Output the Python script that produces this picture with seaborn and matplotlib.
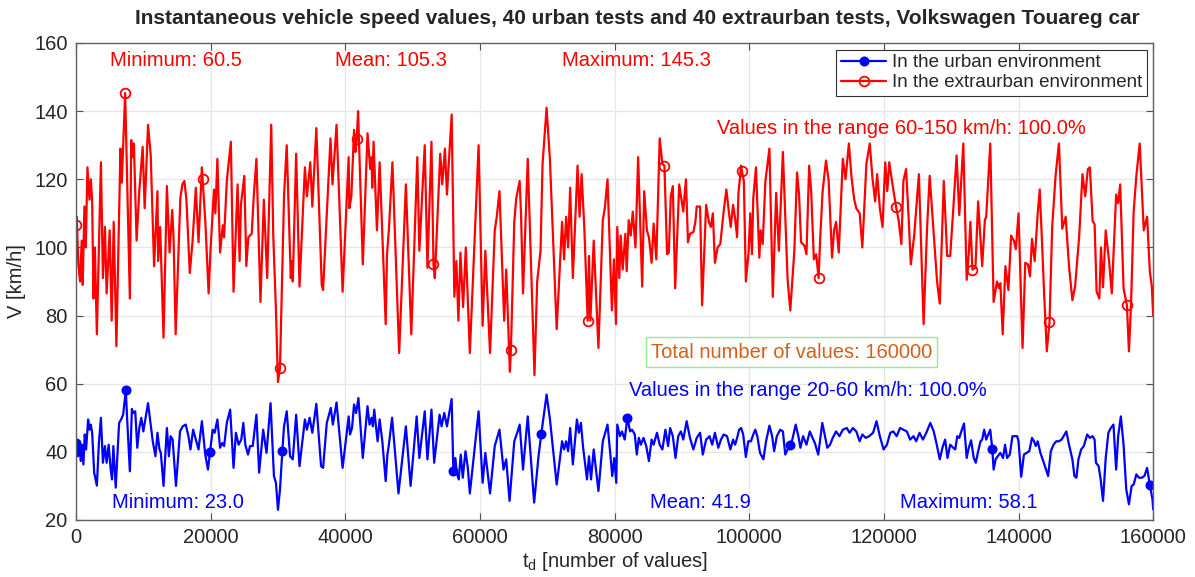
import numpy as np
import pandas as pd
import seaborn as sns
import matplotlib.pyplot as plt

# speed readings: (t_d in thousands of values, V in km/h)
extraurban = [
    (0.0, 106.5), (0.1, 109), (0.35, 95), (0.6, 90), (0.85, 102), (1.0, 89), (1.25, 112), (1.45, 100),
    (1.7, 123.5), (2.0, 114), (2.2, 120), (2.4, 113.5), (2.6, 85), (2.8, 100), (3.1, 74.5), (3.7, 125),
    (4.0, 91), (4.3, 106), (4.55, 86.5), (5.0, 105), (5.3, 78.5), (5.6, 107.5), (6.0, 71), (6.6, 129),
    (6.8, 119), (7.0, 129.5), (7.3, 145.3), (8.0, 85), (8.2, 131.5), (8.4, 126.5), (8.6, 130.5), (9.0, 102),
    (9.4, 116.5), (9.9, 129.5), (10.2, 111.5), (10.7, 136), (11.1, 127), (11.6, 94.5), (12.1, 116.5), (12.2, 96),
    (12.5, 106), (13.0, 73.5), (13.5, 118), (13.9, 98.5), (14.3, 111), (14.5, 102), (14.8, 74.5), (15.5, 114.5),
    (15.8, 118.5), (16.1, 119.5), (16.4, 114), (16.9, 92.5), (17.3, 101.5), (17.8, 117.5), (18.2, 101.5), (18.7, 123.5),
    (18.8, 120), (19.2, 108), (19.7, 86.5), (20.0, 100), (20.5, 117), (20.7, 110), (21.0, 126), (21.4, 98.5),
    (21.8, 106.5), (22.0, 103), (22.4, 119.5), (23.0, 131), (23.4, 87), (24.0, 118.5), (24.3, 96), (24.5, 112.5),
    (25.0, 121), (25.3, 94.5), (25.6, 103), (26.1, 104), (26.4, 115), (26.8, 126), (27.4, 84), (27.9, 114),
    (28.4, 91), (29.0, 136), (29.3, 103.5), (29.7, 81.5), (30.0, 60.5), (30.3, 64.7), (30.9, 115), (31.3, 130),
    (31.9, 91), (32.05, 96), (32.2, 90), (32.7, 127.5), (33.2, 88.5), (34.0, 123.5), (34.3, 115), (34.8, 125),
    (35.1, 112), (35.7, 135), (36.5, 89), (36.7, 87.5), (37.8, 132), (38.1, 118.5), (38.7, 136), (39.6, 87),
    (40.5, 126.5), (40.6, 111.5), (40.9, 115), (41.3, 134.5), (41.5, 128), (41.7, 131.7), (41.9, 140), (42.6, 95),
    (43.3, 133.5), (43.7, 123), (43.9, 126.5), (44.0, 117.5), (44.2, 131), (44.7, 105), (45.1, 125), (46.0, 77.5),
    (46.2, 98), (46.5, 106), (47.0, 125), (48.0, 69), (49.0, 118.5), (49.8, 74.5), (50.7, 126.5), (51.0, 99),
    (51.8, 130), (52.2, 94), (52.8, 131), (53.1, 95), (53.3, 91), (54.1, 127.5), (54.4, 118.5), (54.8, 129),
    (55.1, 115.5), (55.8, 139), (56.2, 85.5), (56.5, 96), (56.8, 78.5), (57.1, 98.5), (57.5, 82.5), (57.9, 100),
    (58.5, 69), (59.8, 130), (60.4, 77), (60.8, 99), (61.5, 69), (62.2, 105), (62.5, 109), (62.9, 116.5),
    (63.6, 78.5), (63.9, 93.5), (64.45, 63.5), (64.6, 70), (65.1, 107.5), (65.4, 114.5), (65.9, 119.5), (66.1, 110),
    (66.4, 86.5), (67.1, 126), (68.1, 62.5), (68.5, 90), (69.0, 99), (69.3, 124.5), (69.9, 141), (70.4, 125.5),
    (71.4, 76), (72.2, 107.5), (72.5, 96.5), (72.8, 109), (73.1, 100), (73.4, 117.5), (73.8, 91), (74.5, 124),
    (74.8, 109), (75.1, 121.5), (75.5, 106), (76.0, 78.5), (76.2, 97.5), (76.4, 78.5), (76.9, 102), (77.6, 70.5),
    (78.25, 108), (78.55, 111.5), (78.95, 120), (79.6, 81.5), (79.9, 96.5), (80.2, 77.5), (80.4, 106), (80.7, 91),
    (80.9, 103.5), (81.2, 93.5), (81.6, 104), (81.8, 93), (82.1, 108), (82.4, 103.5), (82.7, 110.5), (83.1, 100),
    (83.5, 126.5), (84.1, 88.5), (84.4, 116.5), (84.8, 105), (85.1, 103), (85.5, 95.5), (85.8, 107), (86.2, 96.5),
    (86.7, 132), (87.1, 124.5), (87.4, 124), (87.8, 98), (88.05, 98.5), (88.35, 115), (88.65, 118), (89.0, 88),
    (89.6, 118.5), (89.9, 114.5), (90.2, 110.5), (90.6, 120), (90.9, 101.5), (91.2, 104), (91.7, 104.5), (92.0, 107.5),
    (92.2, 112), (92.7, 112), (93.0, 83), (93.6, 112.5), (94.0, 107.5), (94.3, 106), (94.6, 110), (94.9, 95.5),
    (95.3, 100), (95.7, 101), (96.2, 110.5), (96.6, 117), (97.0, 110), (97.25, 106), (97.6, 112.5), (97.9, 108.5),
    (98.2, 103), (98.4, 116), (98.8, 124), (98.9, 122.5), (99.2, 119.5), (99.5, 90), (99.9, 98.5), (100.15, 110),
    (100.4, 98), (100.6, 114.5), (101.0, 123.5), (101.5, 97), (101.7, 105), (102.0, 101), (102.4, 119.5), (103.0, 129),
    (103.5, 85.5), (104.0, 116), (104.4, 99), (105.0, 128), (105.7, 90.5), (106.1, 81.5), (106.7, 99), (107.1, 122),
    (107.4, 115.5), (107.7, 101.5), (108.2, 100.5), (108.5, 98), (108.9, 124), (109.2, 116.5), (109.6, 96.5), (109.95, 98),
    (110.3, 91), (110.55, 103), (110.9, 116.5), (111.4, 125.5), (111.8, 119.5), (112.3, 97), (112.6, 105), (112.9, 107.5),
    (113.3, 98.5), (113.9, 126), (114.3, 120), (114.8, 130.5), (115.2, 120.5), (115.6, 114), (115.9, 111.5), (116.4, 110),
    (116.8, 100), (117.4, 124.5), (117.9, 130.5), (118.3, 120.5), (118.7, 113.5), (119.0, 121.5), (119.4, 111.5), (119.8, 106),
    (120.2, 125), (120.5, 116.5), (120.8, 125), (121.2, 119.5), (121.8, 112), (122.2, 107.8), (122.6, 101), (122.9, 119.5),
    (123.3, 123), (123.7, 107.8), (124.0, 95), (124.5, 103.5), (125.2, 121.5), (125.9, 77.5), (126.4, 105), (126.8, 121),
    (127.2, 109.8), (127.9, 90), (128.3, 83.5), (128.9, 119.5), (129.4, 97.5), (129.85, 97.5), (130.3, 111), (130.8, 127),
    (131.2, 109.5), (131.8, 130.5), (132.3, 90.5), (132.6, 98), (132.85, 107.5), (133.15, 93.5), (133.6, 94), (134.0, 113.5),
    (134.6, 94.5), (135.0, 108), (135.2, 109), (135.8, 130.5), (136.3, 84), (136.8, 90), (137.1, 88), (137.3, 89.5),
    (137.65, 74.5), (138.05, 94.5), (138.5, 87.5), (138.9, 103.5), (139.3, 102), (139.6, 99.5), (140.0, 110), (140.6, 70.5),
    (141.0, 95.5), (141.4, 95), (141.7, 91.5), (142.0, 102.5), (142.4, 96), (142.85, 110), (143.15, 117), (143.5, 101),
    (143.8, 86.5), (144.2, 69.5), (144.6, 78), (145.0, 106), (145.5, 121), (146.0, 130.5), (146.5, 105.5), (147.0, 109),
    (147.5, 94.5), (148.0, 84.5), (148.4, 88.5), (149.0, 103), (149.5, 121.5), (149.9, 115), (150.3, 123), (150.6, 123.5),
    (151.0, 107.8), (151.3, 106.8), (151.6, 87), (152.0, 85), (152.25, 100), (152.55, 88.3), (152.95, 105), (153.45, 96),
    (153.85, 86.5), (154.5, 115.5), (154.8, 113), (155.1, 118.5), (155.6, 88), (156.1, 83), (156.4, 69.5), (156.7, 82.5),
    (157.1, 110.5), (157.5, 121), (158.0, 130.5), (158.6, 105), (159.1, 109), (159.5, 93), (159.8, 88.5), (160.0, 80),
]

urban = [
    (0.0, 42.7), (0.3, 38.7), (0.5, 43.1), (0.7, 37.3), (0.9, 42.1), (1.1, 36.3), (1.3, 45.1), (1.5, 40.7),
    (1.8, 49.5), (2.0, 46.5), (2.2, 48.0), (2.4, 45.6), (2.7, 33.9), (3.1, 30.1), (3.4, 42.6), (3.7, 50.0),
    (4.0, 36.8), (4.3, 41.7), (4.55, 36.8), (4.85, 42.1), (5.15, 34.8), (5.35, 31.9), (5.55, 41.7), (5.9, 29.5),
    (6.4, 48.5), (6.7, 49.5), (7.0, 50.9), (7.4, 58.1), (7.6, 49.5), (8.0, 34.3), (8.3, 52.6), (8.5, 51.4),
    (8.8, 51.9), (9.1, 41.2), (9.4, 47.0), (9.7, 50.0), (10.0, 46.0), (10.3, 49.5), (10.7, 54.3), (11.0, 49.5),
    (11.4, 43.1), (11.8, 38.7), (12.1, 45.6), (12.4, 40.7), (12.6, 39.7), (13.0, 30.0), (13.5, 47.0), (13.8, 38.7),
    (14.05, 44.6), (14.35, 43.6), (14.85, 30.0), (15.45, 46.0), (15.85, 47.5), (16.3, 48.0), (16.7, 44.6), (17.0, 40.7),
    (17.4, 46.5), (17.8, 43.6), (18.2, 40.7), (18.7, 49.0), (19.2, 39.2), (19.6, 34.8), (19.9, 39.9), (20.3, 46.5),
    (20.6, 45.6), (21.0, 49.5), (21.4, 41.2), (21.7, 42.6), (22.0, 41.7), (22.4, 48.5), (22.9, 52.4), (23.4, 35.3),
    (23.75, 45.6), (24.15, 42.1), (24.55, 43.6), (24.85, 48.5), (25.15, 42.1), (25.55, 39.2), (25.85, 41.7), (26.25, 41.7),
    (26.8, 50.9), (27.2, 33.9), (27.8, 46.5), (28.3, 39.7), (28.9, 54.3), (29.4, 32.9), (29.7, 30.9), (30.0, 23.0),
    (30.3, 29.0), (30.65, 40.2), (30.9, 47.5), (31.3, 51.9), (31.8, 38.7), (32.2, 37.8), (32.7, 50.9), (33.2, 35.8),
    (34.0, 49.5), (34.3, 46.5), (34.7, 50.0), (35.1, 45.6), (35.7, 54.1), (36.4, 35.8), (36.7, 35.3), (37.25, 48.5),
    (37.85, 52.9), (38.15, 48.0), (38.7, 54.5), (39.6, 35.3), (40.5, 50.4), (40.7, 45.1), (41.0, 47.0), (41.3, 53.9),
    (41.6, 51.4), (41.95, 55.8), (42.6, 38.2), (43.3, 53.4), (43.6, 48.0), (43.9, 50.0), (44.1, 47.5), (44.3, 52.4),
    (44.5, 48.5), (44.8, 43.1), (45.1, 49.5), (45.5, 43.1), (46.0, 31.4), (46.25, 39.2), (46.45, 41.7), (46.95, 50.0),
    (47.9, 27.8), (49.0, 47.5), (49.7, 30.0), (50.6, 50.4), (51.0, 38.2), (51.8, 51.9), (52.2, 37.8), (52.8, 52.4),
    (53.2, 36.8), (54.0, 50.9), (54.3, 47.5), (54.7, 51.4), (55.1, 47.5), (55.8, 55.5), (56.05, 34.3), (56.35, 38.2),
    (56.55, 33.9), (56.85, 31.9), (57.15, 39.2), (57.45, 32.4), (57.85, 40.2), (58.2, 35.3), (58.5, 27.8), (59.8, 51.9),
    (60.4, 30.9), (60.8, 39.7), (61.5, 27.8), (62.2, 41.7), (62.9, 46.5), (63.5, 34.8), (63.9, 37.8), (64.4, 25.6),
    (65.1, 43.1), (65.6, 46.0), (65.9, 48.0), (66.4, 34.8), (67.1, 50.4), (68.05, 25.1), (68.7, 38.7), (69.1, 45.1),
    (69.4, 49.5), (69.9, 56.8), (70.4, 49.5), (71.4, 30.4), (72.2, 43.1), (72.5, 40.7), (72.8, 43.1), (73.1, 40.2),
    (73.4, 47.0), (73.8, 36.3), (74.4, 49.5), (74.7, 45.6), (75.0, 48.5), (75.3, 41.7), (75.9, 31.9), (76.2, 38.7),
    (76.5, 31.9), (76.9, 40.7), (77.6, 28.5), (78.25, 43.1), (78.95, 48.0), (79.35, 39.7), (79.65, 32.9), (79.95, 38.2),
    (80.25, 30.9), (80.4, 48.0), (80.8, 44.6), (81.1, 46.0), (81.5, 43.6), (81.9, 50.0), (82.3, 46.0), (82.6, 46.5),
    (83.0, 45.1), (83.3, 39.2), (83.6, 44.1), (83.9, 42.1), (84.3, 44.1), (84.7, 41.7), (85.1, 37.3), (85.5, 43.6),
    (85.8, 42.1), (86.3, 45.6), (86.7, 42.1), (87.1, 40.7), (87.55, 46.5), (87.95, 41.7), (88.25, 47.0), (88.65, 44.6),
    (89.05, 38.2), (89.45, 44.6), (89.85, 46.0), (90.2, 43.6), (90.7, 49.0), (91.2, 44.1), (91.7, 40.7), (92.2, 44.1),
    (92.7, 45.6), (93.1, 39.2), (93.6, 43.6), (94.1, 44.6), (94.5, 42.1), (94.9, 45.6), (95.4, 41.2), (95.8, 43.6),
    (96.2, 45.1), (96.7, 44.6), (97.2, 40.7), (97.6, 43.6), (97.9, 42.1), (98.2, 44.1), (98.5, 46.5), (98.8, 47.0),
    (99.1, 45.1), (99.5, 38.5), (99.85, 43.1), (100.25, 43.1), (100.6, 45.1), (100.9, 46.5), (101.2, 44.6), (101.6, 39.7),
    (102.1, 37.8), (102.5, 43.1), (103.0, 47.7), (103.4, 44.6), (103.7, 40.2), (104.1, 44.6), (104.6, 46.5), (105.0, 46.0),
    (105.35, 39.2), (106.0, 41.9), (106.4, 43.6), (106.9, 48.0), (107.3, 44.6), (107.6, 41.2), (108.0, 44.6), (108.5, 42.1),
    (109.0, 46.0), (109.4, 44.1), (109.75, 42.6), (110.25, 39.2), (110.85, 48.5), (111.2, 45.1), (111.6, 41.2), (112.0, 42.1),
    (112.4, 44.1), (112.9, 46.0), (113.4, 44.6), (113.9, 46.5), (114.5, 47.0), (114.9, 45.6), (115.4, 47.0), (115.9, 46.0),
    (116.4, 43.1), (116.8, 45.1), (117.3, 44.1), (117.8, 44.6), (118.4, 45.6), (118.9, 49.0), (119.4, 44.6), (119.95, 40.7),
    (120.45, 42.1), (120.95, 45.6), (121.4, 46.0), (121.9, 44.6), (122.4, 47.0), (122.9, 46.5), (123.4, 46.0), (123.9, 43.6),
    (124.4, 44.6), (124.8, 43.1), (125.3, 45.6), (125.8, 43.6), (126.3, 45.6), (126.9, 48.5), (127.4, 46.0), (127.8, 42.6),
    (128.3, 37.8), (128.7, 41.2), (129.1, 43.6), (129.45, 38.2), (129.85, 42.1), (130.3, 41.2), (130.6, 40.7), (130.9, 44.6),
    (131.2, 44.1), (131.5, 46.0), (131.9, 48.3), (132.3, 38.2), (132.55, 40.7), (132.95, 43.4), (133.35, 38.2), (133.65, 36.8),
    (133.95, 39.7), (134.35, 43.1), (134.6, 43.6), (134.9, 46.5), (135.2, 43.6), (135.5, 45.1), (135.8, 46.5), (136.1, 40.9),
    (136.3, 34.8), (136.6, 37.8), (136.9, 38.7), (137.3, 39.7), (137.7, 38.2), (138.0, 42.1), (138.3, 38.2), (138.7, 39.2),
    (139.1, 44.6), (139.4, 44.6), (139.8, 44.6), (140.0, 43.1), (140.4, 32.7), (140.8, 39.2), (141.2, 39.7), (141.6, 40.2),
    (142.0, 44.1), (142.3, 43.1), (142.55, 41.7), (142.85, 43.1), (143.25, 39.7), (143.75, 36.8), (144.4, 32.9), (144.8, 40.2),
    (145.2, 42.1), (145.6, 43.1), (146.0, 43.1), (146.4, 43.6), (146.7, 44.6), (147.1, 46.0), (147.5, 42.1), (148.0, 37.8),
    (148.3, 32.9), (148.6, 32.4), (148.9, 37.8), (149.3, 40.7), (149.7, 41.7), (150.2, 45.1), (150.6, 44.1), (151.0, 44.6),
    (151.3, 43.6), (151.5, 36.8), (151.9, 35.8), (152.2, 31.9), (152.55, 25.6), (152.95, 38.2), (153.35, 45.6), (153.7, 47.0),
    (154.1, 48.0), (154.5, 34.8), (154.8, 44.6), (155.2, 50.4), (155.6, 42.1), (156.0, 29.0), (156.4, 24.6), (156.8, 30.0),
    (157.1, 30.4), (157.5, 33.4), (157.9, 32.4), (158.3, 32.4), (158.7, 32.9), (159.1, 35.3), (159.5, 30.4), (159.9, 26.0),
    (160.0, 23.1),
]

# where the markers sit (t_d in thousands)
extraurban_marks = [0.0, 7.3, 18.8, 30.3, 41.7, 53.1, 64.6, 76.0, 87.4, 98.9, 110.3, 121.8, 133.15, 144.6, 156.1]
urban_marks = [0.0, 7.4, 19.9, 30.65, 56.05, 69.1, 81.9, 106.0, 136.1, 159.5]

extra_stats = ["Minimum: 60.5", "Mean: 105.3", "Maximum: 145.3"]
urban_stats = ["Minimum: 23.0", "Mean: 41.9", "Maximum: 58.1"]


def to_frame(pairs):
    df = pd.DataFrame(pairs, columns=["t", "V"])
    df["t"] = df["t"] * 1000
    return df


def mark_idx(df, marks):
    t = df["t"].values
    return [int(np.argmin(np.abs(t - m * 1000))) for m in marks]


df_u = to_frame(urban)
df_e = to_frame(extraurban)

sns.set_style("whitegrid")
plt.rcParams['font.family'] = ['Liberation Sans', 'DejaVu Sans']

fig, ax = plt.subplots(figsize=(11.95, 5.77), dpi=100)
fig.subplots_adjust(left=0.0636, right=0.965, top=0.9255, bottom=0.0988)

sns.lineplot(data=df_u, x="t", y="V", color="blue", lw=1.6, estimator=None, sort=False,
             marker="o", markersize=6, markevery=mark_idx(df_u, urban_marks),
             markeredgecolor="blue", markerfacecolor="blue", markeredgewidth=1.2,
             label="In the urban environment", ax=ax)
sns.lineplot(data=df_e, x="t", y="V", color="red", lw=1.6, estimator=None, sort=False,
             marker="o", markersize=7, markevery=mark_idx(df_e, extraurban_marks),
             markeredgecolor="red", markerfacecolor="none", markeredgewidth=1.3,
             label="In the extraurban environment", ax=ax)

ax.set_xlim(0, 160000)
ax.set_ylim(20, 160)
ax.set_xticks(np.arange(0, 160001, 20000))
ax.set_yticks(np.arange(20, 161, 20))
ax.ticklabel_format(axis="x", style="plain", useOffset=False)
ax.grid(True, color="#e6e6e6", lw=0.9)
for s in ax.spines.values():
    s.set_color("#606060")
    s.set_linewidth(1.0)
ax.tick_params(direction="in", length=5, width=0.8, color="#505050", labelsize=14.5,
               top=True, right=True, bottom=True, left=True, pad=6)

ax.set_xlabel(r"t$_\mathregular{d}$ [number of values]", fontsize=14.5, labelpad=2)
ax.set_ylabel("V [km/h]", fontsize=14.5, labelpad=6)

fig.text(0.533, 0.968, "Instantaneous vehicle speed values, 40 urban tests and 40 extraurban tests, Volkswagen Touareg car",
         ha="center", va="center", fontsize=15, fontweight="bold",
         family=["Liberation Sans Narrow", "Liberation Sans", "DejaVu Sans"])

fs = 14.5
for x, s in zip([5050, 38500, 72200], extra_stats):
    ax.text(x, 155, s, color="red", fontsize=fs, ha="left", va="center")
for x, s in zip([5300, 85300, 122450], urban_stats):
    ax.text(x, 25.2, s, color="blue", fontsize=fs, ha="left", va="center")
ax.text(95250, 135, "Values in the range 60-150 km/h: 100.0%", color="red", fontsize=fs, ha="left", va="center")
ax.text(82200, 58, "Values in the range 20-60 km/h: 100.0%", color="blue", fontsize=fs, ha="left", va="center")
ax.text(85400, 69.3, "Total number of values: 160000", color="#d2601a", fontsize=fs, ha="left", va="center",
        bbox=dict(boxstyle="square,pad=0.25", fc="white", ec="#90ee90", lw=1.0))

leg = ax.legend(loc="upper right", fontsize=13.5, frameon=True, fancybox=False, framealpha=1,
                edgecolor="#333333", borderaxespad=0.35, handlelength=2.4, handletextpad=0.3,
                borderpad=0.25, labelspacing=0.15)
leg.get_frame().set_linewidth(0.8)

fig.savefig("out.png", dpi=100)
